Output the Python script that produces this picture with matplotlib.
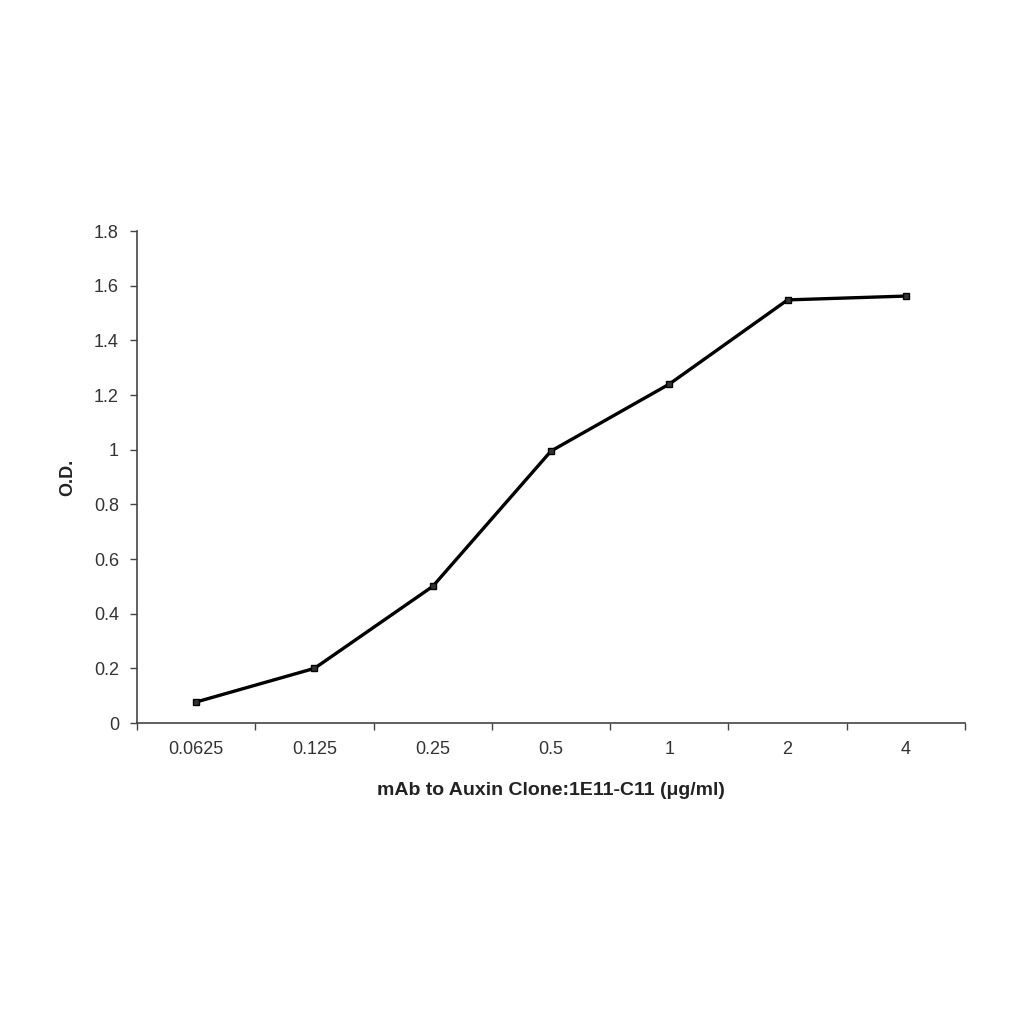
import numpy as np
import matplotlib
matplotlib.use("Agg")
import matplotlib.pyplot as plt

concentrations = ["0.0625", "0.125", "0.25", "0.5", "1", "2", "4"]
od_values = [0.077, 0.20, 0.50, 0.995, 1.24, 1.548, 1.562]
y_ticks = [0, 0.2, 0.4, 0.6, 0.8, 1, 1.2, 1.4, 1.6, 1.8]

plt.rcParams['font.family'] = ['Liberation Sans', 'DejaVu Sans']

fig = plt.figure(figsize=(10.24, 10.24), dpi=100)
ax = fig.add_axes([0.1338, 0.2939, 0.8086, 0.4805])

x = np.arange(len(concentrations))
ax.plot(x, od_values, color='black', linewidth=2.4, marker='s', markersize=5,
        markerfacecolor='#333333', markeredgecolor='black')

ax.set_xlim(-0.5, len(concentrations) - 0.5)
ax.set_ylim(0, 1.8)
ax.set_yticks(y_ticks)
ax.set_yticklabels([f"{v:g}" for v in y_ticks])

# category labels centered, tick marks between categories (Excel style)
ax.set_xticks(np.arange(-0.5, len(concentrations), 1.0))
ax.set_xticklabels([])
ax.set_xticks(x, minor=True)
ax.set_xticklabels(concentrations, minor=True)
ax.tick_params(axis='x', which='major', direction='out', length=5, width=1, color='#444444')
ax.tick_params(axis='x', which='minor', length=0, pad=13, labelsize=13, labelcolor='#333333')
ax.tick_params(axis='y', direction='out', length=5, width=1, color='#444444', labelsize=13,
               labelcolor='#333333', pad=8)

for side in ['top', 'right']:
    ax.spines[side].set_visible(False)
for side in ['left', 'bottom']:
    ax.spines[side].set_color('#444444')
    ax.spines[side].set_linewidth(1.2)

ax.set_xlabel("mAb to Auxin Clone:1E11-C11 (μg/ml)", fontsize=14, fontweight='bold',
              labelpad=17, color='#222222')
ax.set_ylabel("O.D.", fontsize=13, fontweight='bold', labelpad=13, color='#222222')

fig.savefig("out.png", dpi=100, facecolor='white')
